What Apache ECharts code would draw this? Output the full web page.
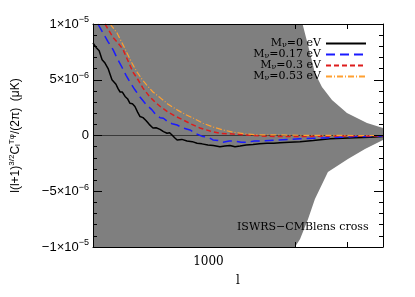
<!DOCTYPE html>
<html><head><meta charset="utf-8">
<script src="https://cdn.jsdelivr.net/npm/echarts@6/dist/echarts.min.js"></script>
<style>html,body{margin:0;padding:0;background:#fff}#c{width:415px;height:297px}</style>
</head><body><div id="c"></div>
<script>
// ---- data (multipole l, value in units of 1e-6) ----
var lBlack = [400,410,420,430,440,446,451,458,465,472,480,488,496,505,516,526,536,547,558,570,581,595,609,625,644,660,681,700,720,735,749,765,780,810,844,880,914,950,996,1040,1096,1140,1186,1235,1285,1350,1425,1500,1592,1680,1765,1900,2069,2300,2625,2900,3202,3600,4000];
var vBlack = [8.3,7.9,7.6,6.8,6.5,6.4,6.0,5.5,5.0,5.0,4.6,4.2,3.9,3.9,3.5,3.3,2.9,2.85,2.6,2.1,1.7,1.6,1.35,1.0,0.67,0.7,0.55,0.35,0.2,0.25,0.05,-0.2,-0.4,-0.35,-0.5,-0.55,-0.7,-0.75,-0.85,-0.9,-1.0,-0.95,-0.9,-1.0,-0.95,-0.85,-0.8,-0.75,-0.7,-0.7,-0.65,-0.6,-0.55,-0.45,-0.3,-0.25,-0.2,-0.15,-0.1];

var lBlue = [416,433,451,469,484,504,520,536,558,581,609,639,659,681,700,726,750,780,817,864,906,958,1000,1037,1080,1123,1180,1235,1300,1358,1440,1530,1620,1724,1900,2069,2300,2625,2900,3202,3600,4000];
var vBlue = [10.0,9.2,8.4,7.7,6.95,6.1,5.4,4.8,4.1,3.45,2.8,2.3,1.85,1.6,1.55,1.2,1.05,0.94,0.67,0.5,0.15,-0.1,-0.15,-0.4,-0.45,-0.6,-0.5,-0.5,-0.6,-0.6,-0.5,-0.5,-0.45,-0.4,-0.35,-0.3,-0.25,-0.2,-0.15,-0.1,-0.08,-0.05];

var lRed = [440,469,488,508,528,549,572,595,624,654,686,726,767,817,871,935,1013,1096,1215,1358,1530,1724,2069,2625,3200,4000];
var vRed = [10.0,8.8,8.3,7.7,6.7,5.7,5.0,4.25,3.55,3.0,2.55,2.1,1.75,1.4,1.03,0.67,0.4,0.2,0.13,0.05,-0.05,-0.1,-0.1,-0.05,-0.05,-0.03];

var lOrange = [458,484,504,524,545,567,590,614,644,681,726,780,830,885,958,1037,1123,1215,1358,1506,1765,2069,2625,3200,4000];
var vOrange = [10.0,9.2,8.3,7.4,6.5,5.7,5.05,4.5,3.9,3.4,2.8,2.3,1.9,1.57,1.1,0.76,0.5,0.3,0.13,0.05,0.05,0.02,0.02,0.0,0.0];

// visible edges of the shaded error band (units of 1e-6)
var lUpper = [400,2116,2240,2330,2464,2668,3005,3523,4000];
var vUpper = [10,9.9,7.4,5.6,4.35,3.18,2.02,1.12,0.67];
var lLower = [400,1988,2069,2205,2330,2583,3028,3467,4000];
var vLower = [-10,-10.0,-9.3,-7.5,-5.7,-3.27,-2.1,-1.2,-0.4];

var seriesNames = ['M{s|ν}=0 eV','M{s|ν}=0.17 eV','M{s|ν}=0.3 eV','M{s|ν}=0.53 eV'];
var xLabelValues = [1000];
var xMinorTicks = [2000,3000];

function pairs(ls, vs){ return ls.map(function(l,i){ return [l, vs[i]*1e-6]; }); }

var chart = echarts.init(document.getElementById('c'), null, {renderer:'canvas'});

function yFmt(v){
  if (Math.abs(v) < 1e-12) return '0';
  var s = v < 0 ? '−' : '';
  var a = Math.abs(v);
  var e = Math.floor(Math.log10(a) + 1e-9);
  var m = Math.round(a / Math.pow(10, e));
  return s + m + '×10{p|−' + (-e) + '}';
}

var axisCommon = {
  z: 10,
  axisLine: {show:true, onZero:false, lineStyle:{color:'#000', width:1}},
  splitLine: {show:false}
};

var serif = 'DejaVu Serif';
var sans = 'Liberation Sans';

var upperPts = pairs(lUpper, vUpper);
var lowerPts = pairs(lLower, vLower);

var option = {
  animation: false,
  backgroundColor: '#fff',
  grid: {left:93, right:32, top:24, bottom:50},
  legend: {
    data: seriesNames,
    orient: 'vertical',
    right: 48, top: 38,
    padding: 0,
    align: 'right',
    itemWidth: 40, itemHeight: 10, itemGap: 0,
    itemStyle: {opacity: 0, borderWidth: 0},
    textStyle: {fontFamily: serif, fontSize: 11, color:'#000', lineHeight: 10,
      rich: {s: {fontFamily: serif, fontSize: 8, lineHeight: 3, verticalAlign:'bottom'}}}
  },
  xAxis: [
    Object.assign({}, axisCommon, {
      type:'log', logBase:10, min:400, max:4000, position:'bottom',
      name:'l', nameLocation:'middle', nameGap:28,
      nameTextStyle:{fontFamily:serif, fontSize:12, color:'#000'},
      axisTick:{show:true, inside:true, length:5, customValues: xMinorTicks, lineStyle:{color:'#000'}},
      axisLabel:{show:true, customValues: xLabelValues, formatter:function(v){return String(v);},
        fontFamily:serif, fontSize:12, color:'#000', margin:9}
    }),
    Object.assign({}, axisCommon, {
      type:'log', logBase:10, min:400, max:4000, position:'top',
      axisTick:{show:true, inside:true, length:5, customValues: xMinorTicks, lineStyle:{color:'#000'}},
      axisLabel:{show:false}
    })
  ],
  yAxis: [
    Object.assign({}, axisCommon, {
      type:'value', min:-1e-5, max:1e-5, interval:5e-6, position:'left',
      name:'l(l+1){p|3/2}C{b|l}{p|Tφ}/(2π)  (μK)', nameLocation:'middle', nameRotate:90, nameGap:70,
      nameTextStyle:{fontFamily:sans, fontSize:12, color:'#000',
        rich:{p:{fontFamily:sans, fontSize:8, padding:[0,0,7,0]}, b:{fontFamily:sans, fontSize:8, padding:[5,0,0,0]}}},
      axisTick:{show:true, inside:true, length:9, lineStyle:{color:'#000'}},
      minorTick:{show:true, splitNumber:5, length:4, lineStyle:{color:'#000'}},
      axisLabel:{show:true, formatter:yFmt, fontFamily:sans, fontSize:13, color:'#000', margin:4,
        rich:{p:{fontFamily:sans, fontSize:9, padding:[0,0,8,0]}}}
    }),
    Object.assign({}, axisCommon, {
      type:'value', min:-1e-5, max:1e-5, interval:5e-6, position:'right',
      axisTick:{show:true, inside:true, length:9, lineStyle:{color:'#000'}},
      minorTick:{show:true, splitNumber:5, length:4, lineStyle:{color:'#000'}},
      axisLabel:{show:false}
    })
  ],
  graphic: [{
    type:'text', left: 237, top: 222, z: 100,
    style:{text:'ISWRS−CMBlens cross', font:'11px "DejaVu Serif"', fill:'#000'}
  }],
  series: [
    {type:'custom', name:'band', data:[0], z:1, silent:true, clip:true,
      renderItem: function(params, api){
        var pts = [];
        upperPts.forEach(function(p){ pts.push(api.coord(p)); });
        for (var i = lowerPts.length - 1; i >= 0; i--) pts.push(api.coord(lowerPts[i]));
        return {type:'polygon', shape:{points: pts}, style:{fill:'#7f7f7f', stroke:null}};
      }},
    {type:'line', name:'zero', data: [[400,0],[4000,0]], symbol:'none', lineStyle:{color:'#3a3a3a', width:1}, z:2, silent:true},
    {type:'line', name: seriesNames[0], data: pairs(lBlack, vBlack), symbol:'none', z:3,
      itemStyle:{color:'#000'}, lineStyle:{color:'#000', width:1.5, type:'solid'}},
    {type:'line', name: seriesNames[1], data: pairs(lBlue, vBlue), symbol:'none', z:3,
      itemStyle:{color:'#1a1aff'}, lineStyle:{color:'#1a1aff', width:1.5, type:[9,5]}},
    {type:'line', name: seriesNames[2], data: pairs(lRed, vRed), symbol:'none', z:3,
      itemStyle:{color:'#dd1c1c'}, lineStyle:{color:'#dd1c1c', width:1.5, type:[5,3]}},
    {type:'line', name: seriesNames[3], data: pairs(lOrange, vOrange), symbol:'none', z:3,
      itemStyle:{color:'#ffa030'}, lineStyle:{color:'#ffa030', width:1.2, type:[6,2,1,2]}}
  ]
};
chart.setOption(option);
</script>
</body></html>
